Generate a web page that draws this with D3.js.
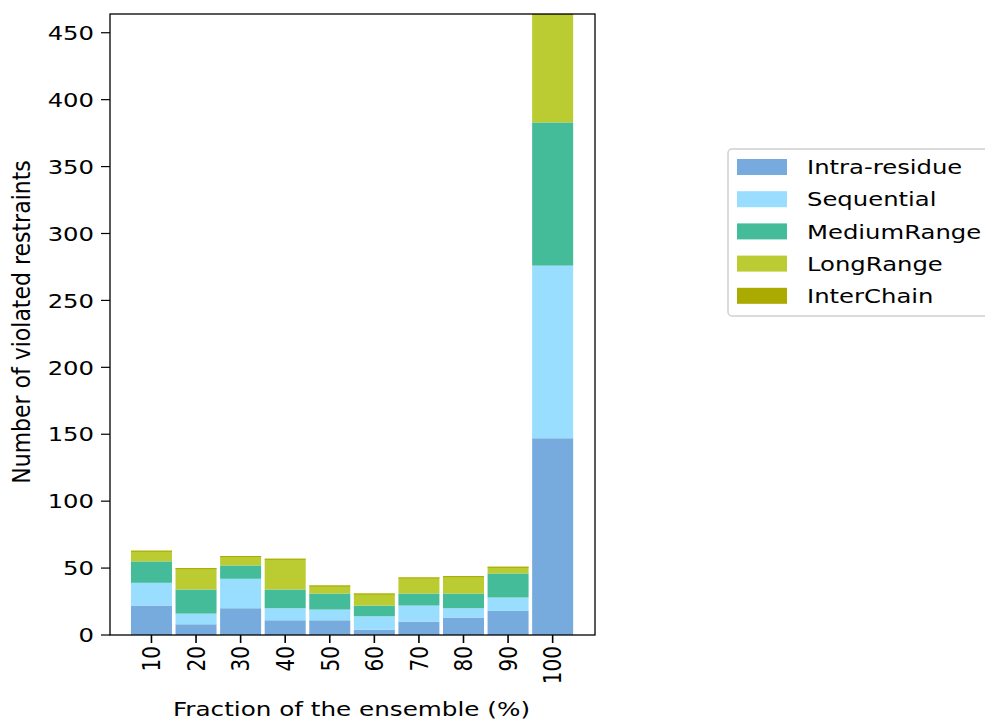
<!DOCTYPE html>
<html>
<head>
<meta charset="utf-8">
<script src="https://cdn.jsdelivr.net/npm/d3@7"></script>
<style>
  body { margin: 0; background: #fff; }
  text { font-family: "DejaVu Sans", sans-serif; fill: #000; }
</style>
</head>
<body>
<svg width="985" height="721"></svg>
<script>
// fraction of the ensemble (%) on x
var fractions = ["10", "20", "30", "40", "50", "60", "70", "80", "90", "100"];

// violated restraints per class, stacked bottom to top
var intraResidue = [22, 8, 20, 11, 11, 4, 10, 13, 18, 147];
var sequential   = [17, 8, 22, 9, 8, 10, 12, 7, 10, 129];
var mediumRange  = [16, 18, 10, 14, 12, 8, 9, 11, 18, 107];
var longRange    = [8, 16, 7, 23, 6, 9, 12, 13, 5, 81];
var interChain   = [0, 0, 0, 0, 0, 0, 0, 0, 0, 0];

var seriesNames = ["Intra-residue", "Sequential", "MediumRange", "LongRange", "InterChain"];
var seriesColors = ["#77aadd", "#99ddff", "#44bb99", "#bbcc33", "#aaaa00"];
var yTicks = [0, 50, 100, 150, 200, 250, 300, 350, 400, 450];

var svg = d3.select("svg");
var sx = 1.215;   // the picture is stretched sideways, so the text is too
var fs = 20;

var pLeft = 110, pRight = 595, pTop = 14, pBottom = 635;

var rows = fractions.map(function(f, i) {
  return {
    frac: f,
    "Intra-residue": intraResidue[i],
    "Sequential": sequential[i],
    "MediumRange": mediumRange[i],
    "LongRange": longRange[i],
    "InterChain": interChain[i]
  };
});

var layers = d3.stack().keys(seriesNames)(rows);

var maxTotal = d3.max(layers[layers.length - 1], function(d) { return d[1]; });

var x = d3.scaleLinear()
    .domain([-0.93, fractions.length - 1 + 0.95])
    .range([pLeft, pRight]);

var y = d3.scaleLinear()
    .domain([0, maxTotal])
    .range([pBottom, pTop]);

var barW = 0.92 * (x(1) - x(0));

// bars
var g = svg.append("g");
layers.forEach(function(layer, k) {
  g.selectAll(null)
    .data(layer)
    .enter().append("rect")
      .attr("x", function(d, i) { return x(i) - barW / 2; })
      .attr("width", barW)
      .attr("y", function(d) { return y(d[1]); })
      .attr("height", function(d) {
        var h = y(d[0]) - y(d[1]);
        // zero height InterChain bars still show as a thin line
        return k === seriesNames.length - 1 ? Math.max(h, 1) : h;
      })
      .attr("fill", seriesColors[k]);
});

// frame
svg.append("rect")
    .attr("x", pLeft).attr("y", pTop)
    .attr("width", pRight - pLeft).attr("height", pBottom - pTop)
    .attr("fill", "none").attr("stroke", "#000").attr("stroke-width", 1.3);

// y axis ticks
yTicks.forEach(function(t) {
  svg.append("line")
    .attr("x1", pLeft - 9).attr("x2", pLeft)
    .attr("y1", y(t)).attr("y2", y(t))
    .attr("stroke", "#000").attr("stroke-width", 1.2);
  svg.append("text")
    .attr("transform", "translate(" + (pLeft - 16) + "," + y(t) + ") scale(" + sx + ",1)")
    .attr("text-anchor", "end")
    .attr("dominant-baseline", "central")
    .attr("font-size", fs)
    .text(t);
});

// x axis ticks
fractions.forEach(function(f, i) {
  svg.append("line")
    .attr("x1", x(i)).attr("x2", x(i))
    .attr("y1", pBottom).attr("y2", pBottom + 8)
    .attr("stroke", "#000").attr("stroke-width", 1.6);
  svg.append("text")
    .attr("transform", "translate(" + x(i) + "," + (pBottom + 11) + ") scale(" + sx + ",1) rotate(-90)")
    .attr("text-anchor", "end")
    .attr("dominant-baseline", "central")
    .attr("font-size", fs)
    .text(f);
});

// axis labels
svg.append("text")
    .attr("transform", "translate(" + ((pLeft + pRight) / 2 - 1) + ",716) scale(" + (sx * 1.015) + ",1)")
    .attr("text-anchor", "middle")
    .attr("font-size", fs)
    .text("Fraction of the ensemble (%)");

svg.append("text")
    .attr("transform", "translate(30,322) scale(1.1,1) rotate(-90)")
    .attr("text-anchor", "middle")
    .attr("font-size", 22)
    .text("Number of violated restraints");

// legend
var lg = svg.append("g");
lg.append("rect")
    .attr("x", 728).attr("y", 149)
    .attr("width", 280).attr("height", 167)
    .attr("rx", 4)
    .attr("fill", "#fff").attr("stroke", "#d0d0d0").attr("stroke-width", 1.5);

seriesNames.forEach(function(name, k) {
  var cy = 167 + k * 32.2;
  lg.append("rect")
    .attr("x", 737).attr("y", cy - 8)
    .attr("width", 50).attr("height", 16)
    .attr("fill", seriesColors[k]);
  lg.append("text")
    .attr("transform", "translate(807," + cy + ") scale(" + sx + ",1)")
    .attr("dominant-baseline", "central")
    .attr("font-size", fs)
    .text(name);
});
</script>
</body>
</html>
